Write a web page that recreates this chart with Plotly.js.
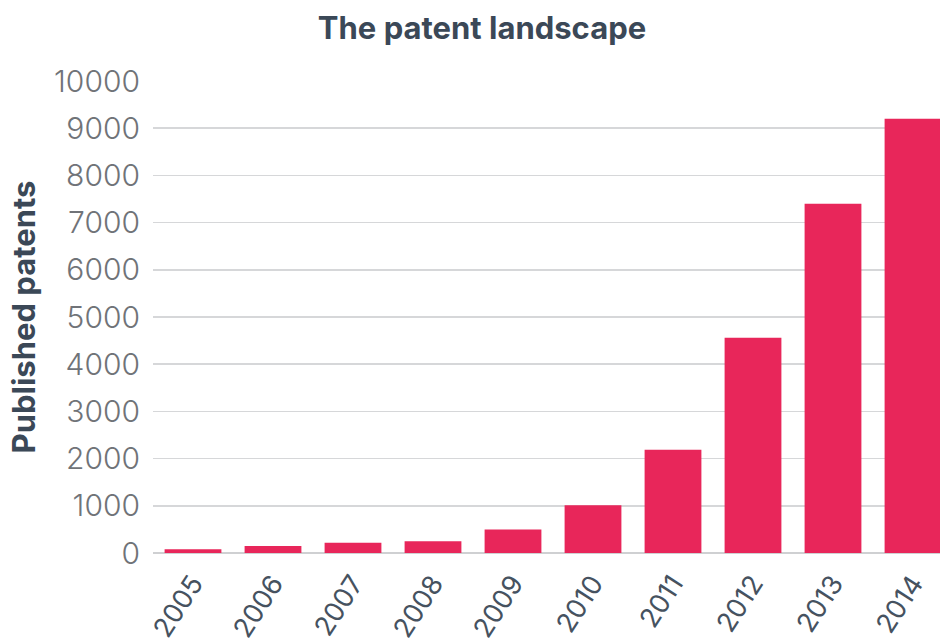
<!DOCTYPE html>
<html>
<head>
<meta charset="utf-8">
<script src="https://cdn.plot.ly/plotly-3.0.1.min.js"></script>
<style>html,body{margin:0;padding:0;background:#fff;}#chart{width:940px;height:640px;}</style>
</head>
<body>
<div id="chart"></div>
<script>
const years = ['2005','2006','2007','2008','2009','2010','2011','2012','2013','2014'];
const patents = [80, 150, 215, 250, 500, 1010, 2190, 4560, 7400, 9200];
const yTicks = [0,1000,2000,3000,4000,5000,6000,7000,8000,9000,10000];
const chartTitle = 'The patent landscape';
const yTitle = 'Published patents';

const fontFam = 'Inter, "DejaVu Sans", sans-serif';

Plotly.newPlot('chart', [{
  type: 'bar',
  x: years,
  y: patents,
  width: 0.71,
  marker: {color: '#e8265a'},
  hoverinfo: 'x+y'
}], {
  width: 940, height: 640,
  margin: {l: 153, r: 0, t: 81, b: 87},
  paper_bgcolor: '#fff', plot_bgcolor: '#fff',
  showlegend: false,
  title: {
    text: chartTitle,
    x: 482/940, xref: 'container', xanchor: 'center',
    y: 1 - 28/640, yref: 'container', yanchor: 'middle',
    font: {family: fontFam, size: 31, color: '#3b4857', weight: 700}
  },
  xaxis: {
    type: 'category',
    range: [-0.5, 9.3375],
    tickangle: -57,
    ticks: 'outside', ticklen: 3, tickcolor: 'rgba(0,0,0,0)',
    tickfont: {family: fontFam, size: 27, color: '#46525f'},
    showgrid: false,
    showline: false,
    zeroline: false,
    fixedrange: true
  },
  yaxis: {
    range: [0, 10000],
    tickvals: yTicks,
    ticktext: yTicks.map(String),
    ticks: 'outside', ticklen: 6, tickcolor: 'rgba(0,0,0,0)',
    tickfont: {family: fontFam, size: 30, color: '#707378', weight: 300},
    showgrid: true, gridcolor: '#d6d7d9', gridwidth: 1.5,
    zeroline: true, zerolinecolor: '#cfd0d2', zerolinewidth: 1.5,
    title: {text: yTitle, standoff: 9, font: {family: fontFam, size: 31, color: '#3b4857', weight: 700}},
    fixedrange: true
  }
}, {displayModeBar: false, staticPlot: true});
</script>
</body>
</html>
